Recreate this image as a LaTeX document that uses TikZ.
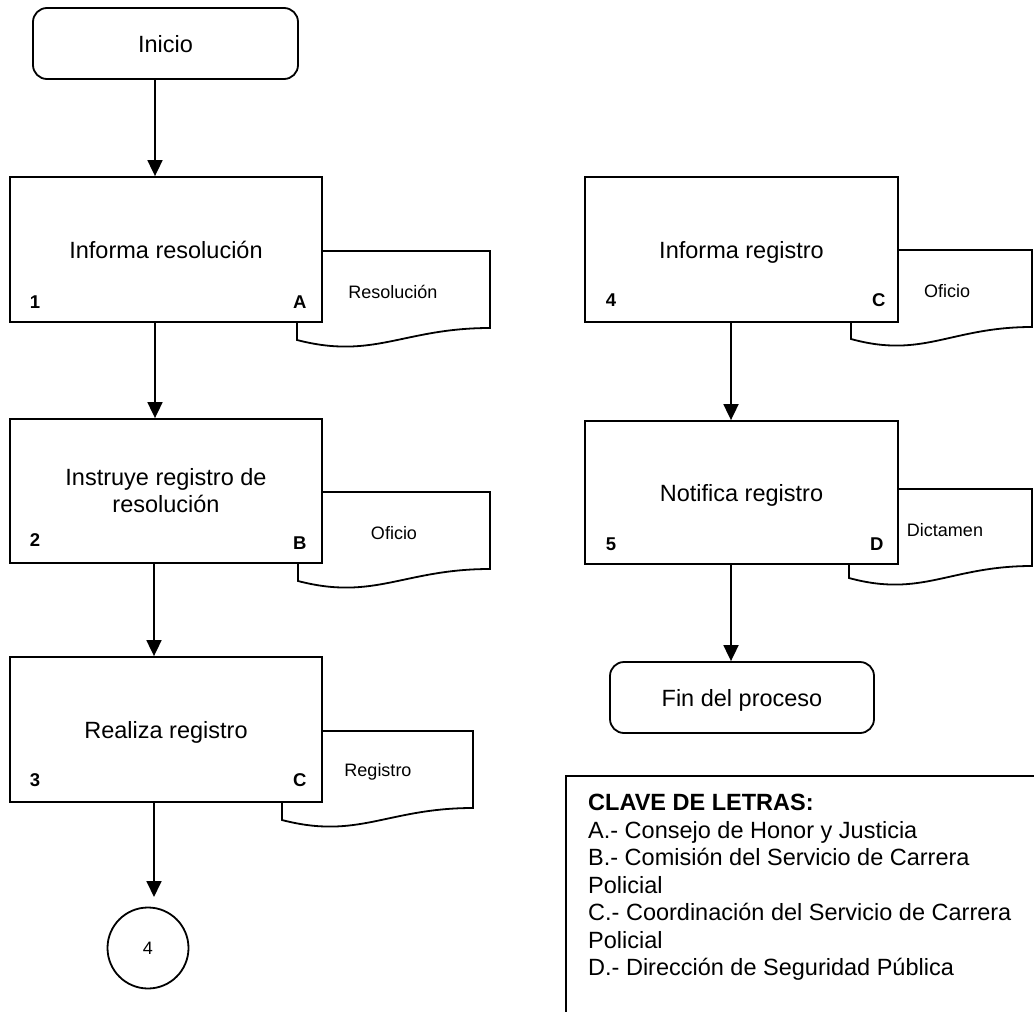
\documentclass[tikz,border=0pt]{standalone}
\usepackage{fontspec}
\setmainfont{Liberation Sans}
\usetikzlibrary{arrows.meta,calc}

\tikzset{
  stroke/.style={line width=1.8pt},
  procbox/.style={stroke, draw, fill=white, minimum width=312pt, minimum height=145pt,
    inner sep=0pt, align=center, font=\fontsize{23.5}{27}\selectfont},
  oneline/.style={text height=17pt, text depth=0pt},
  termbox/.style={stroke, draw, fill=white, rounded corners=14pt, inner sep=0pt,
    oneline, font=\fontsize{23.5}{27}\selectfont},
  tag/.style={font=\fontsize{18.5}{20}\selectfont\bfseries, inner sep=0pt},
  doctext/.style={font=\fontsize{18}{20}\selectfont, inner sep=0pt},
  docline/.style={stroke, draw, fill=white},
  flow/.style={stroke, -{Triangle[width=15pt,length=16pt]}},
  keyline/.style={font=\fontsize{23.5}{27}\selectfont, anchor=base west, inner sep=0pt},
  connector/.style={stroke, draw, circle, minimum size=81pt, inner sep=0pt,
    font=\fontsize{18}{20}\selectfont},
}

% document symbol: name, left, top, right, caption
\newcommand{\docsheet}[5]{%
  \draw[docline] (#2,#3) -- (#4,#3) -- (#4,{#3+77})
    .. controls ({#2+0.55*(#4-#2)},{#3+77}) and ({#2+0.4*(#4-#2)},{#3+109}) .. (#2,{#3+89})
    -- cycle;
  \node[doctext] (#1) at ({#2+96},{#3+41}) {#5};
}

\begin{document}
\begin{tikzpicture}[x=1pt,y=-1pt]
\useasboundingbox (0,0) rectangle (1034,1012);
\clip (0,0) rectangle (1034,1012);
\fill[white] (0,0) rectangle (1034,1012);

% output documents, drawn first so the step boxes cover their left part
\docsheet{d1}{297}{251}{490}{Resolución}
\docsheet{d2}{298}{492}{490}{Oficio}
\docsheet{d3}{282}{731}{473}{Registro}
\docsheet{d4}{851}{250}{1032}{Oficio}
\docsheet{d5}{849}{489}{1032}{Dictamen}

% terminals
\node[termbox, minimum width=265pt, minimum height=71pt] (inicio) at (165.5,43.5) {Inicio};
\node[termbox, minimum width=264pt, minimum height=71pt] (fin) at (742,697.5) {Fin del proceso};

% process steps
\node[procbox, oneline] (p1) at (166,249.5) {Informa resolución};
\node[procbox, minimum height=144pt] (p2) at (166,491) {Instruye registro de\\resolución};
\node[procbox, oneline] (p3) at (166,729.5) {Realiza registro};
\node[procbox, oneline, minimum width=313pt] (p4) at (741.5,249.5) {Informa registro};
\node[procbox, oneline, minimum width=313pt, minimum height=143pt] (p5) at (741.5,492.5) {Notifica registro};

% step numbers and responsible areas
\node[tag] (p1n) at ($(p1.south west)+(26,-21)$) {1};
\node[tag] (p1r) at ($(p1.south east)+(-23,-21)$) {A};
\node[tag] (p2n) at ($(p2.south west)+(26,-24)$) {2};
\node[tag] (p2r) at ($(p2.south east)+(-23,-21)$) {B};
\node[tag] (p3n) at ($(p3.south west)+(26,-23)$) {3};
\node[tag] (p3r) at ($(p3.south east)+(-23,-23)$) {C};
\node[tag] (p4n) at ($(p4.south west)+(27,-23)$) {4};
\node[tag] (p4r) at ($(p4.south east)+(-20,-23)$) {C};
\node[tag] (p5n) at ($(p5.south west)+(27,-21)$) {5};
\node[tag] (p5r) at ($(p5.south east)+(-22,-21)$) {D};

% off-page connector
\node[connector] (c4) at (148,948) {4};

% flow lines
\coordinate (colA) at (155,0);
\coordinate (colB) at (154,0);
\coordinate (colR) at (731,0);
\coordinate (c4in) at (154,897);
\draw[flow] (inicio.south -| colA) -- (p1.north -| colA);
\draw[flow] (p1.south -| colA) -- (p2.north -| colA);
\draw[flow] (p2.south -| colB) -- (p3.north -| colB);
\draw[flow] (p3.south -| colB) -- (c4in);
\draw[flow] (p4.south -| colR) -- (p5.north -| colR);
\draw[flow] (p5.south -| colR) -- (fin.north -| colR);

% key of letters
\draw[stroke] (566,776) rectangle (1060,1040);
\node[keyline, font=\fontsize{23.5}{27}\selectfont\bfseries] (k0) at (588,810.5) {CLAVE DE LETRAS:};
\node[keyline] (k1) at (588,838) {A.- Consejo de Honor y Justicia};
\node[keyline] (k2) at (588,865.5) {B.- Comisión del Servicio de Carrera};
\node[keyline] (k3) at (588,893) {Policial};
\node[keyline] (k4) at (588,920.5) {C.- Coordinación del Servicio de Carrera};
\node[keyline] (k5) at (588,948) {Policial};
\node[keyline] (k6) at (588,975.5) {D.- Dirección de Seguridad Pública};
\end{tikzpicture}
\end{document}
